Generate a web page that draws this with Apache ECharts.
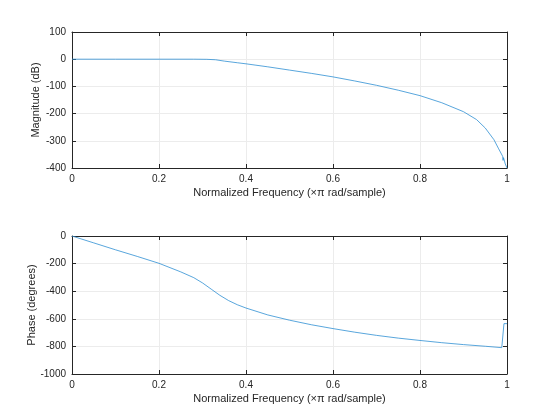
<!DOCTYPE html>
<html>
<head>
<meta charset="utf-8">
<script src="https://cdn.jsdelivr.net/npm/echarts@6/dist/echarts.min.js"></script>
<style>
  html, body { margin: 0; padding: 0; background: #fff; }
  #chart { width: 560px; height: 420px; }
</style>
</head>
<body>
<div id="chart"></div>
<script>
// magnitude response
const magFreq = [0, 0.1, 0.2, 0.28, 0.31, 0.33, 0.35, 0.38, 0.4, 0.45, 0.5, 0.55, 0.6, 0.65, 0.7, 0.75, 0.8, 0.85, 0.9, 0.93, 0.95, 0.97, 0.98, 0.99, 0.991, 0.992, 0.996, 1];
const magDb = [0, 0, 0, 0, -0.5, -2, -7, -13, -17, -28, -40, -52, -65, -80, -96, -114, -134, -160, -193, -222, -253, -296, -327, -357, -372, -362, -385, -400];

// phase response
const phaseFreq = [0, 0.05, 0.1, 0.15, 0.2, 0.25, 0.28, 0.3, 0.32, 0.34, 0.36, 0.38, 0.4, 0.45, 0.5, 0.55, 0.6, 0.65, 0.7, 0.75, 0.8, 0.85, 0.9, 0.95, 0.988, 0.993, 1];
const phaseDeg = [0, -50, -100, -148, -198, -260, -302, -340, -385, -430, -468, -498, -522, -572, -610, -643, -671, -697, -720, -740, -757, -773, -787, -799, -809, -635, -635];

const xTicks = { min: 0, max: 1, interval: 0.2 };
const magTicks = { min: -400, max: 100, interval: 100 };
const phaseTicks = { min: -1000, max: 0, interval: 200 };

const font = 'Liberation Sans, Arial, Helvetica, sans-serif';
const textColor = '#262626';
const boxColor = '#262626';
const gridColor = '#ececec';
const lineColor = '#2f8fd3';

const chart = echarts.init(document.getElementById('chart'), null, { renderer: 'canvas' });

function mainX(gridIndex) {
  return {
    type: 'value', gridIndex, position: 'bottom',
    min: xTicks.min, max: xTicks.max, interval: xTicks.interval,
    name: 'Normalized Frequency (\u00d7\u03c0 rad/sample)',
    nameLocation: 'middle', nameGap: 19, nameMoveOverlap: false,
    nameTextStyle: { color: textColor, fontSize: 11, fontFamily: font },
    axisLine: { show: true, onZero: false, lineStyle: { color: boxColor, width: 1 } },
    axisTick: { show: true, inside: true, length: 4, lineStyle: { color: boxColor } },
    axisLabel: { color: textColor, fontSize: 10, fontFamily: font, margin: 6 },
    splitLine: { show: true, lineStyle: { color: gridColor, width: 1 } }
  };
}
function boxX(gridIndex) {
  return {
    type: 'value', gridIndex, position: 'top',
    min: xTicks.min, max: xTicks.max, interval: xTicks.interval,
    axisLine: { show: true, onZero: false, lineStyle: { color: boxColor, width: 1 } },
    axisTick: { show: true, inside: true, length: 4, lineStyle: { color: boxColor } },
    axisLabel: { show: false }, splitLine: { show: false }
  };
}
function mainY(gridIndex, ticks, name, gap) {
  return {
    type: 'value', gridIndex, position: 'left',
    min: ticks.min, max: ticks.max, interval: ticks.interval,
    name, nameLocation: 'middle', nameGap: gap, nameMoveOverlap: false,
    nameTextStyle: { color: textColor, fontSize: 11, fontFamily: font },
    axisLine: { show: true, onZero: false, lineStyle: { color: boxColor, width: 1 } },
    axisTick: { show: true, inside: true, length: 4, lineStyle: { color: boxColor } },
    axisLabel: { color: textColor, fontSize: 10, fontFamily: font, margin: 6, formatter: v => String(v) },
    splitLine: { show: true, lineStyle: { color: gridColor, width: 1 } }
  };
}
function boxY(gridIndex, ticks) {
  return {
    type: 'value', gridIndex, position: 'right',
    min: ticks.min, max: ticks.max, interval: ticks.interval,
    axisLine: { show: true, onZero: false, lineStyle: { color: boxColor, width: 1 } },
    axisTick: { show: true, inside: true, length: 4, lineStyle: { color: boxColor } },
    axisLabel: { show: false }, splitLine: { show: false }
  };
}

const option = {
  backgroundColor: '#fff',
  animation: false,
  grid: [
    { left: 72, right: 53, top: 32, height: 136 },
    { left: 72, right: 53, top: 236, height: 138 }
  ],
  xAxis: [mainX(0), boxX(0), mainX(1), boxX(1)],
  yAxis: [
    mainY(0, magTicks, 'Magnitude (dB)', 31), boxY(0, magTicks),
    mainY(1, phaseTicks, 'Phase (degrees)', 35), boxY(1, phaseTicks)
  ],
  series: [
    {
      type: 'line', xAxisIndex: 0, yAxisIndex: 0,
      data: magFreq.map((f, i) => [f, magDb[i]]),
      showSymbol: false, smooth: false,
      lineStyle: { color: lineColor, width: 0.8 }
    },
    {
      type: 'line', xAxisIndex: 2, yAxisIndex: 2,
      data: phaseFreq.map((f, i) => [f, phaseDeg[i]]),
      showSymbol: false, smooth: false,
      lineStyle: { color: lineColor, width: 0.8 }
    }
  ]
};

chart.setOption(option);
</script>
</body>
</html>
